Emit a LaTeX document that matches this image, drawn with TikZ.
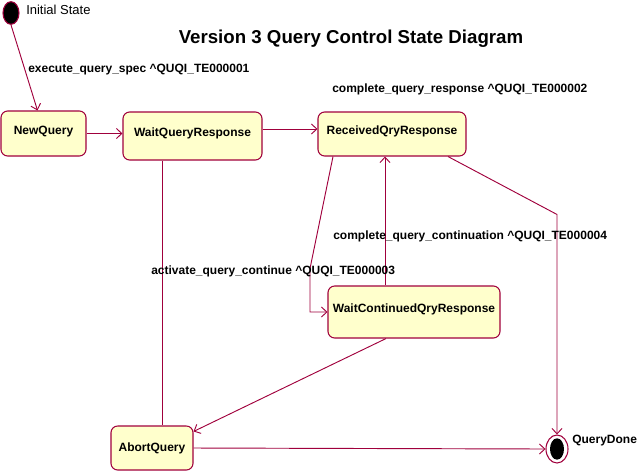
\documentclass[tikz,border=0pt]{standalone}
\usepackage{fontspec}
\setmainfont{Liberation Sans}
\usetikzlibrary{shapes.geometric,arrows.meta}

\definecolor{edgered}{RGB}{160,0,60}
\definecolor{statefill}{RGB}{255,255,204}

\begin{document}
\begin{tikzpicture}[x=0.75pt,y=-0.75pt]
			\tikzset{state/.style={draw=edgered, fill=statefill, rounded corners=5pt, line width=0.8pt, font=\bfseries\fontsize{9}{10}\selectfont, inner sep=0pt, text height=7pt, text depth=6pt},
				trans/.style={draw=edgered, line width=0.7pt, -{Straight Barb[length=4pt,width=7.5pt]}},
				evt/.style={anchor=west, inner sep=0pt, font=\bfseries\fontsize{9}{10}\selectfont}}
			\useasboundingbox (0,0) rectangle (638,472);
			
			\node[font=\bfseries\fontsize{14}{16}\selectfont] (title) at (351,39) {Version 3 Query Control State Diagram};
			
			% states
			\node[ellipse, draw=edgered, fill=black, line width=0.8pt, minimum width=12pt, minimum height=17pt, inner sep=0pt] (init) at (11,13) {};
			\node[anchor=west, inner sep=0pt, font=\fontsize{9.75}{11}\selectfont] (initlbl) at (26,10) {Initial State};
			\node[state, minimum width=63.75pt, minimum height=33.75pt] (nq) at (43.5,133.5) {NewQuery};
			\node[state, minimum width=104.25pt, minimum height=36pt] (wqr) at (192.5,136) {WaitQueryResponse};
			\node[state, minimum width=111pt, minimum height=33pt] (rqr) at (392,134) {ReceivedQryResponse};
			\node[state, minimum width=129pt, minimum height=39pt] (wcr) at (414,312) {WaitContinuedQryResponse};
			\node[state, text depth=2pt, minimum width=61.5pt, minimum height=33pt] (aq) at (152,448) {AbortQuery};
			\node[ellipse, draw=edgered, fill=white, line width=0.8pt, minimum width=16.5pt, minimum height=21pt, inner sep=0pt] (done) at (557,449) {};
			\node[ellipse, fill=black, minimum width=10.5pt, minimum height=16pt, inner sep=0pt] (donein) at (done) {};
			\node[evt] (donelbl) at (572,441) {QueryDone};
			
			% transitions
			\draw[trans] (init.south) -- ([shift={(-6,0)}]nq.north);
			\draw[trans] (nq.east) -- (nq.east -| wqr.west);
			\draw[trans] ([shift={(0,-7)}]wqr.east) -- ([shift={(0,-7)}]wqr.east -| rqr.west);
			\draw[trans, -] ([shift={(-30,0)}]wqr.south) -- ([shift={(-30,0)}]wqr.south |- aq.north);
			\draw[trans] ([shift={(-59,0)}]rqr.south) -- ++(-23,112) |- (wcr.west);
			\draw[trans] ([shift={(-29,0)}]wcr.north) -- ([shift={(-29,0)}]wcr.north |- rqr.south);
			\draw[trans] ([shift={(56,0)}]rqr.south) -- ([shift={(0,-220)}]done.north) -- (done.north);
			\draw[trans] ([shift={(-28,0)}]wcr.south) -- ([shift={(0,6)}]aq.north east);
			\draw[trans] (aq.east) -- (done.west);
			
			% events
			\node[evt] (e1) at (28,70) {execute\_query\_spec \^{}QUQI\_TE000001};
			\node[evt] (e2) at (332,89) {complete\_query\_response \^{}QUQI\_TE000002};
			\node[evt] (e3) at (151,271) {activate\_query\_continue \^{}QUQI\_TE000003};
			\node[evt] (e4) at (333,236) {complete\_query\_continuation \^{}QUQI\_TE000004};
		\end{tikzpicture}
\end{document}
